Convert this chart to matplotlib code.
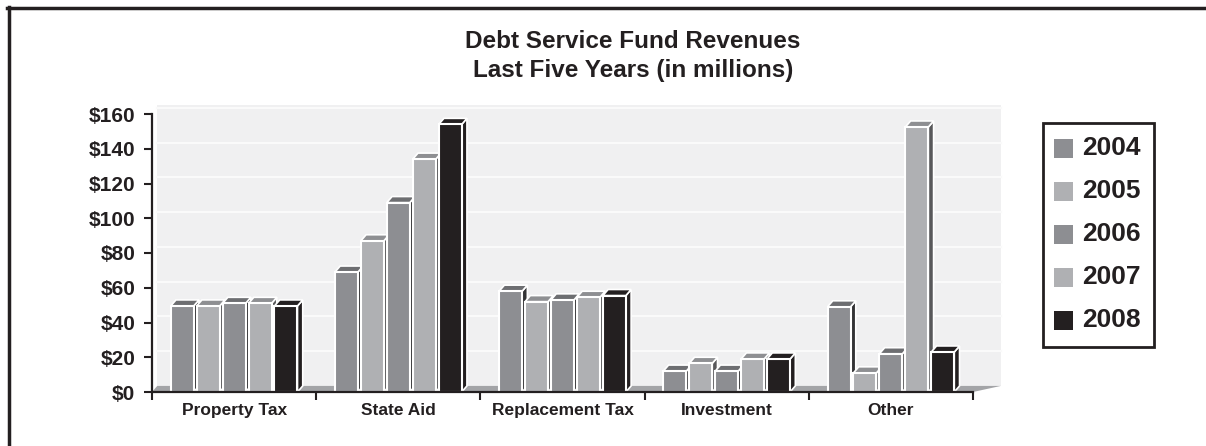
import matplotlib
matplotlib.use("Agg")
import matplotlib.pyplot as plt
from matplotlib.patches import Polygon, Rectangle
from matplotlib.lines import Line2D

categories = ["Property Tax", "State Aid", "Replacement Tax", "Investment", "Other"]
years = ["2004", "2005", "2006", "2007", "2008"]
v2004 = [49.5, 69, 58, 12, 49]
v2005 = [49.5, 87, 52, 16.5, 11]
v2006 = [51, 109, 53, 12, 22]
v2007 = [51, 134, 54.5, 19, 152.5]
v2008 = [49.5, 154, 55.5, 19, 23]
series = [v2004, v2005, v2006, v2007, v2008]
yticks = [0, 20, 40, 60, 80, 100, 120, 140, 160]
title_lines = ["Debt Service Fund Revenues", "Last Five Years (in millions)"]

front = ["#8d8e92", "#afb0b3", "#8d8e92", "#afb0b3", "#231f20"]
top = ["#6d6e71", "#8e8f92", "#6d6e71", "#8e8f92", "#231f20"]
side = ["#333335", "#58585a", "#333335", "#58585a", "#231f20"]
ink = "#231f20"

plt.rcParams['font.family'] = ['Liberation Sans', 'DejaVu Sans']

W, H = 1206, 446
fig = plt.figure(figsize=(W / 100, H / 100), dpi=100)
ax = fig.add_axes([152 / W, 1 - 392 / H, (973 - 152) / W, (392 - 114) / H])
ax.set_facecolor('none')
ax.set_xlim(-0.5, 4.5)
ax.set_ylim(0, 160)

dx, dy = 0.032, 3.5
pitch, width = 0.158, 0.14
wall_r, wall_t = 4.67, 165.0

# back wall
ax.add_patch(Rectangle((-0.5 + dx, dy), wall_r - (-0.5 + dx), wall_t - dy,
                       facecolor="#f0f0f1", edgecolor='none', zorder=0, clip_on=False))
for t in yticks[1:]:
    ax.plot([-0.5 + dx, wall_r], [t + dy, t + dy], color='#fafafa', lw=1.5, zorder=0.5, clip_on=False)
# floor
ax.add_patch(Polygon([(-0.5, 0), (4.5, 0), (wall_r, dy), (-0.5 + dx, dy)], closed=True,
                     facecolor="#a3a4a7", edgecolor='none', zorder=0.6, clip_on=False))

z = 1
for i in range(len(categories)):
    for j, vals in enumerate(series):
        v = vals[i]
        x0 = i + (j - 2) * pitch - width / 2
        x1 = x0 + width
        # side
        ax.add_patch(Polygon([(x1, 0), (x1 + dx, dy), (x1 + dx, v + dy), (x1, v)], closed=True,
                             facecolor=side[j], edgecolor='white', lw=1.2, zorder=z, clip_on=False))
        # top
        ax.add_patch(Polygon([(x0, v), (x0 + dx, v + dy), (x1 + dx, v + dy), (x1, v)], closed=True,
                             facecolor=top[j], edgecolor='white', lw=1.2, zorder=z, clip_on=False))
        # front
        ax.add_patch(Rectangle((x0, 0), width, v, facecolor=front[j], edgecolor='white',
                               lw=1.5, zorder=z + 0.1, clip_on=False))
        z += 0.2

for s in ['top', 'right']:
    ax.spines[s].set_visible(False)
for s in ['left', 'bottom']:
    ax.spines[s].set_color(ink)
    ax.spines[s].set_linewidth(1.6)
    ax.spines[s].set_zorder(20)

ax.set_yticks(yticks)
ax.set_yticklabels([f"${t}" for t in yticks], fontsize=15, fontweight='bold', color=ink)
ax.tick_params(axis='y', direction='out', length=6, width=1.5, color=ink, pad=6)

bounds = [i - 0.5 for i in range(len(categories) + 1)]
ax.set_xticks(bounds)
ax.set_xticklabels([''] * len(bounds))
ax.tick_params(axis='x', which='major', direction='out', length=6, width=1.5, color=ink)
ax.set_xticks(list(range(len(categories))), minor=True)
ax.set_xticklabels(categories, minor=True, fontsize=12.5, fontweight='bold', color=ink)
ax.tick_params(axis='x', which='minor', length=0, pad=8)

# title
fig.text(633 / W, 1 - 42 / H, title_lines[0], ha='center', va='center', fontsize=17.5,
         fontweight='bold', color=ink)
fig.text(633 / W, 1 - 70 / H, title_lines[1], ha='center', va='center', fontsize=17.5,
         fontweight='bold', color=ink)

# frame
fig.add_artist(Line2D([8.5 / W, 8.5 / W], [0, 1 - 7 / H], color=ink, lw=2.5))
fig.add_artist(Line2D([7 / W, 1], [1 - 8 / H, 1 - 8 / H], color=ink, lw=2.5))

# legend
fig.add_artist(Rectangle((1043 / W, 1 - 347 / H), 111 / W, 224 / H, transform=fig.transFigure,
                         facecolor='white', edgecolor=ink, lw=2))
for k, yr in enumerate(years):
    yc = 148 + 43 * k
    fig.add_artist(Rectangle((1054 / W, 1 - (yc + 10) / H), 19 / W, 19 / H, transform=fig.transFigure,
                             facecolor=front[k], edgecolor='none'))
    fig.text(1082 / W, 1 - yc / H, yr, ha='left', va='center', fontsize=19, fontweight='bold', color=ink)

fig.savefig("out.png", dpi=100)
